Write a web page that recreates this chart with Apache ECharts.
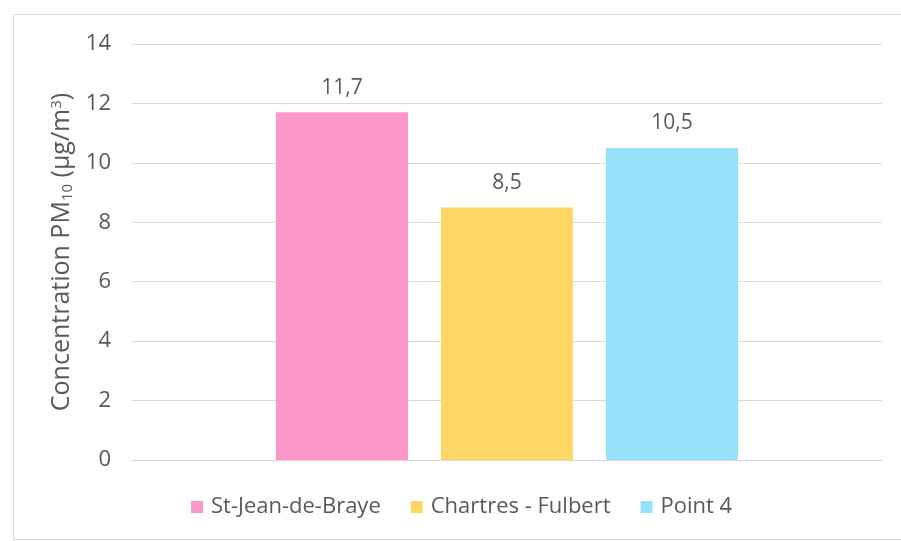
<!DOCTYPE html>
<html>
<head>
<meta charset="utf-8">
<script src="https://cdn.jsdelivr.net/npm/echarts@6/dist/echarts.min.js"></script>
<style>
  html, body { margin: 0; padding: 0; background: #ffffff; }
  #chart { width: 901px; height: 541px; }
</style>
</head>
<body>
<div id="chart"></div>
<script>
// PM10 mean concentration per measurement site
const categories = [''];
const seriesNames = ['St-Jean-de-Braye', 'Chartres - Fulbert', 'Point 4'];
const seriesValues = [11.7, 8.5, 10.5];
const seriesColors = ['#fe97c9', '#fed767', '#96e1fb'];
const yTicks = { min: 0, max: 14, interval: 2 };

const textColor = '#595959';
const fontFamily = '"Open Sans", "Noto Sans", sans-serif';

const chart = echarts.init(document.getElementById('chart'), null, { renderer: 'canvas' });

const series = seriesNames.map((name, i) => ({
  name: name,
  type: 'bar',
  data: [seriesValues[i]],
  itemStyle: { color: seriesColors[i] },
  barWidth: 132,
  barGap: '25%',
  label: {
    show: true,
    position: 'top',
    distance: 14,
    color: textColor,
    fontFamily: fontFamily,
    fontSize: 21,
    formatter: p => String(p.value).replace('.', ',')
  }
}));

chart.setOption({
  animation: false,
  backgroundColor: '#ffffff',
  graphic: [{
    type: 'rect',
    shape: { x: 13.5, y: 14.5, width: 900, height: 525 },
    style: { fill: 'none', stroke: '#d9d9d9', lineWidth: 1 },
    silent: true,
    z: -1
  }],
  grid: { left: 132, right: 19, top: 44, bottom: 81 },
  legend: {
    bottom: 18,
    left: 186,
    itemWidth: 12,
    itemHeight: 12,
    itemGap: 30,
    icon: 'rect',
    textStyle: { color: textColor, fontFamily: fontFamily, fontSize: 22, padding: [0, 0, 0, 3] },
    data: seriesNames
  },
  xAxis: {
    type: 'category',
    data: categories,
    axisLine: { lineStyle: { color: '#d9d9d9' } },
    axisTick: { show: false },
    axisLabel: { show: false }
  },
  yAxis: {
    type: 'value',
    min: yTicks.min,
    max: yTicks.max,
    interval: yTicks.interval,
    name: 'Concentration PM{sub|10} (µg/m{sup|3})',
    nameLocation: 'middle',
    nameGap: 56,
    nameRotate: 90,
    nameTextStyle: {
      color: textColor,
      fontFamily: fontFamily,
      fontSize: 25,
      rich: {
        sub: { fontSize: 15, fontFamily: fontFamily, color: textColor, padding: [12, 0, 0, 0] },
        sup: { fontSize: 15, fontFamily: fontFamily, color: textColor, padding: [0, 0, 10, 0] }
      }
    },
    axisLine: { show: false },
    axisTick: { show: false },
    axisLabel: { color: textColor, fontFamily: fontFamily, fontSize: 22, margin: 21 },
    splitLine: { lineStyle: { color: '#d9d9d9' } }
  },
  series: series
});
</script>
</body>
</html>
